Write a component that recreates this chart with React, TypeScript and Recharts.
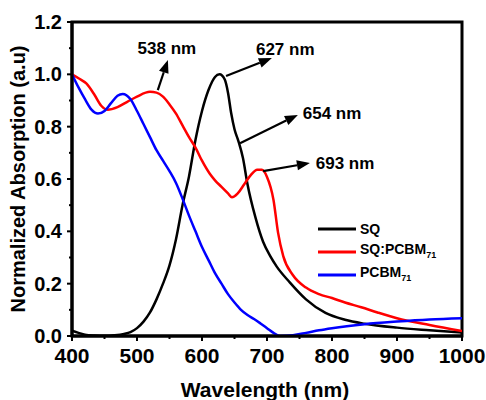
import React from 'react';
import {
  LineChart,
  Line,
  XAxis,
  YAxis,
  Legend,
  ReferenceArea,
  ReferenceLine,
  ReferenceDot,
  Label,
} from 'recharts';

const FONT = '"Liberation Sans", Arial, sans-serif';

// SQ film
const sqWl = [400, 410, 420, 435, 450, 465, 480, 490, 500, 510, 520, 530, 540, 550, 560, 570, 580, 590, 600, 610, 620, 627, 635, 640, 645, 650, 656, 663, 670, 682, 694, 705, 715, 735, 760, 790, 820, 850, 900, 950, 1000];
const sqAbs = [0.02, 0.012, 0.005, 0.002, 0.001, 0.003, 0.008, 0.015, 0.03, 0.055, 0.09, 0.14, 0.2, 0.27, 0.37, 0.5, 0.61, 0.75, 0.86, 0.94, 0.99, 1.0, 0.98, 0.93, 0.85, 0.79, 0.745, 0.68, 0.58, 0.455, 0.36, 0.305, 0.265, 0.205, 0.14, 0.088, 0.062, 0.047, 0.032, 0.022, 0.013];

// SQ:PCBM71 blend
const blendWl = [400, 410, 422, 435, 445, 455, 470, 485, 500, 520, 530, 540, 550, 560, 570, 580, 590, 600, 612, 620, 630, 640, 646, 655, 665, 675, 685, 692, 700, 710, 717, 725, 740, 760, 780, 800, 820, 845, 870, 900, 950, 1000];
const blendAbs = [1.0, 0.985, 0.965, 0.92, 0.88, 0.865, 0.875, 0.895, 0.915, 0.933, 0.93, 0.915, 0.885, 0.85, 0.805, 0.76, 0.72, 0.67, 0.62, 0.595, 0.57, 0.545, 0.53, 0.545, 0.58, 0.615, 0.635, 0.635, 0.608, 0.52, 0.395, 0.305, 0.232, 0.185, 0.16, 0.145, 0.128, 0.11, 0.09, 0.068, 0.042, 0.019];

// PCBM71
const pcbmWl = [400, 410, 420, 430, 440, 450, 460, 470, 478, 490, 500, 510, 520, 530, 540, 550, 560, 570, 580, 590, 600, 610, 620, 630, 640, 650, 660, 670, 680, 690, 700, 710, 720, 740, 760, 780, 800, 850, 900, 950, 1000];
const pcbmAbs = [1.0, 0.95, 0.905, 0.865, 0.85, 0.86, 0.89, 0.918, 0.925, 0.905, 0.86, 0.81, 0.76, 0.71, 0.67, 0.63, 0.585, 0.525, 0.46, 0.4, 0.34, 0.29, 0.24, 0.2, 0.16, 0.128, 0.1, 0.08, 0.065, 0.048, 0.03, 0.012, 0.0, 0.003, 0.012, 0.022, 0.03, 0.045, 0.055, 0.063, 0.068];

const xTicks = [400, 500, 600, 700, 800, 900, 1000];
const xMinor = [450, 550, 650, 750, 850, 950];
const yTicks = [0, 0.2, 0.4, 0.6, 0.8, 1.0, 1.2];
const yMinor = [0.1, 0.3, 0.5, 0.7, 0.9, 1.1];

// peak annotations: arrow tail, arrow tip, label anchor (data coords)
const peakLabels = ['538 nm', '627 nm', '654 nm', '693 nm'];
const arrowFrom = [[532, 0.94], [637, 0.994], [658.5, 0.737], [694, 0.63]];
const arrowTo = [[547.5, 1.055], [707.5, 1.062], [747.5, 0.845], [766, 0.661]];
const labelAt = [[546, 1.1], [683, 1.097], [755, 0.853], [775, 0.661]];
const labelAnchor = ['middle', 'start', 'start', 'start'];

const zip = (wl: number[], a: number[]) => wl.map((w, i) => ({ wl: w, a: a[i] }));

const series = [
  { name: 'SQ', color: '#000000', data: zip(sqWl, sqAbs) },
  { name: 'SQ:PCBM71', color: '#ff0000', data: zip(blendWl, blendAbs) },
  { name: 'PCBM71', color: '#0000ff', data: zip(pcbmWl, pcbmAbs) },
];

const majorX = new Set(xTicks);
const majorY = new Set(yTicks.map((v) => v.toFixed(1)));

const XTick = (props: any) => {
  const { x, y, payload } = props;
  const axisY = y - 12;
  const major = majorX.has(payload.value);
  return (
    <g>
      <line x1={x} x2={x} y1={axisY} y2={axisY + (major ? 5 : 3)} stroke="#000" strokeWidth={2} />
      {major && (
        <text x={x} y={y} dy="0.71em" textAnchor="middle" fontFamily={FONT} fontWeight="bold" fontSize={21} fill="#000">
          {payload.value}
        </text>
      )}
    </g>
  );
};

const YTick = (props: any) => {
  const { x, y, payload } = props;
  const axisX = x + 10;
  const label = Number(payload.value).toFixed(1);
  const major = majorY.has(label);
  return (
    <g>
      <line x1={axisX - (major ? 5 : 3)} x2={axisX} y1={y} y2={y} stroke="#000" strokeWidth={2} />
      {major && (
        <text x={x} y={y} dy="0.355em" textAnchor="end" fontFamily={FONT} fontWeight="bold" fontSize={20} fill="#000">
          {label}
        </text>
      )}
    </g>
  );
};

const Arrow = (props: any) => {
  const { x1, y1, x2, y2 } = props;
  const dx = x2 - x1;
  const dy = y2 - y1;
  const len = Math.sqrt(dx * dx + dy * dy);
  const ux = dx / len;
  const uy = dy / len;
  const head = 13;
  const half = 5;
  const bx = x2 - ux * head;
  const by = y2 - uy * head;
  return (
    <g>
      <line x1={x1} y1={y1} x2={bx} y2={by} stroke="#000" strokeWidth={2.2} />
      <polygon
        points={`${x2},${y2} ${bx - uy * half},${by + ux * half} ${bx + uy * half},${by - ux * half}`}
        fill="#000"
      />
    </g>
  );
};

const renderName = (name: string) => {
  const m = name.match(/^(.*?)(\d+)$/);
  if (!m) return name;
  return (
    <>
      {m[1]}
      <sub style={{ fontSize: 9, verticalAlign: 'sub' }}>{m[2]}</sub>
    </>
  );
};

const LegendBox = () => (
  <div style={{ fontFamily: FONT, fontWeight: 'bold', fontSize: 14, color: '#000' }}>
    {series.map((s) => (
      <div key={s.name} style={{ display: 'flex', alignItems: 'center', height: 23 }}>
        <svg width={38} height={6} style={{ marginRight: 4 }}>
          <line x1={0} x2={38} y1={3} y2={3} stroke={s.color} strokeWidth={3} />
        </svg>
        <span style={{ lineHeight: '14px' }}>{renderName(s.name)}</span>
      </div>
    ))}
  </div>
);

export default function App() {
  return (
    <div style={{ position: 'absolute', left: 0, top: 0, background: '#fff' }}>
      <LineChart width={486} height={400} margin={{ top: 22, right: 24, bottom: 0, left: 0 }}>
        <ReferenceArea x1={400} x2={1000} y1={0} y2={1.2} fill="none" stroke="#000" strokeWidth={3} />
        <XAxis
          dataKey="wl"
          type="number"
          domain={[400, 1000]}
          ticks={[...xTicks, ...xMinor].sort((a, b) => a - b)}
          interval={0}
          height={64}
          tickSize={5}
          tickMargin={7}
          tickLine={false}
          tick={<XTick />}
          axisLine={{ stroke: '#000', strokeWidth: 3 }}
          allowDataOverflow
        >
          <Label
            content={(p: any) => {
              const vb = p.viewBox;
              return (
                <text x={vb.x + vb.width / 2 - 2} y={vb.y + 53} textAnchor="middle" dominantBaseline="central" fontFamily={FONT} fontWeight="bold" fontSize={21} fill="#000">
                  Wavelength (nm)
                </text>
              );
            }}
          />
        </XAxis>
        <YAxis
          type="number"
          domain={[0, 1.2]}
          ticks={[...yTicks, ...yMinor].sort((a, b) => a - b)}
          interval={0}
          width={72}
          tickSize={5}
          tickMargin={5}
          tickLine={false}
          tick={<YTick />}
          axisLine={{ stroke: '#000', strokeWidth: 3 }}
          allowDataOverflow
        >
          <Label
            content={(p: any) => {
              const vb = p.viewBox;
              const cy = vb.y + vb.height / 2;
              return (
                <text x={18} y={cy} transform={`rotate(-90 18 ${cy})`} textAnchor="middle" dominantBaseline="central" fontFamily={FONT} fontWeight="bold" fontSize={20} fill="#000">
                  Normalized Absorption (a.u)
                </text>
              );
            }}
          />
        </YAxis>
        {series.map((s) => (
          <Line
            key={s.name}
            data={s.data}
            dataKey="a"
            name={s.name}
            type="monotone"
            stroke={s.color}
            strokeWidth={2.5}
            dot={false}
            isAnimationActive={false}
          />
        ))}
        {peakLabels.map((t, i) => (
          <ReferenceLine
            key={'a' + t}
            segment={[
              { x: arrowFrom[i][0], y: arrowFrom[i][1] },
              { x: arrowTo[i][0], y: arrowTo[i][1] },
            ]}
            shape={<Arrow />}
          />
        ))}
        {peakLabels.map((t, i) => (
          <ReferenceDot
            key={'t' + t}
            x={labelAt[i][0]}
            y={labelAt[i][1]}
            shape={(p: any) => (
              <text x={p.cx} y={p.cy} dy="0.355em" textAnchor={labelAnchor[i]} fontFamily={FONT} fontWeight="bold" fontSize={17} fill="#000">
                {t}
              </text>
            )}
          />
        ))}
        <Legend
          layout="vertical"
          align="center"
          verticalAlign="middle"
          content={<LegendBox />}
          wrapperStyle={{ left: 318, top: 217, width: 160 }}
        />
      </LineChart>
    </div>
  );
}
